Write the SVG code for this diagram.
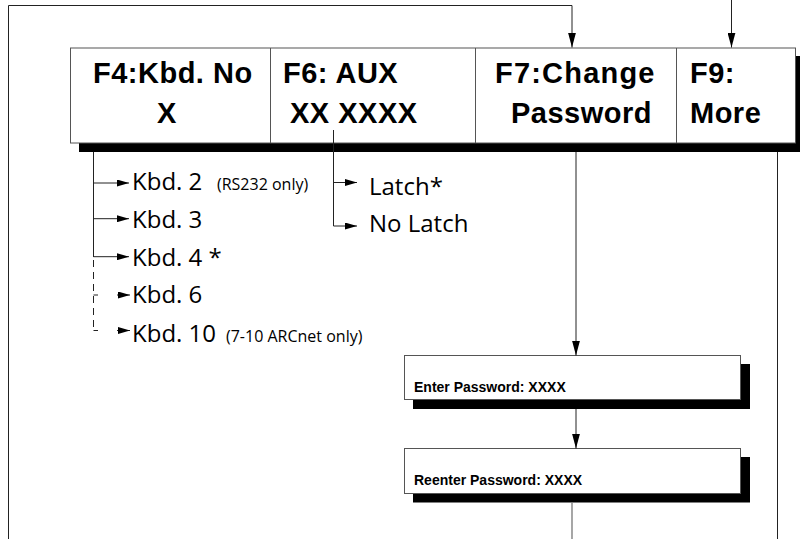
<svg xmlns="http://www.w3.org/2000/svg" width="803" height="539" viewBox="0 0 803 539">
<style>
.bg{fill:#fff}
.box{fill:#fff;stroke:#555;stroke-width:1}
.sh{fill:#000}
.div{stroke:#555;stroke-width:1;fill:none}
.key{font-family:"Liberation Sans",Arial,sans-serif;font-weight:bold;font-size:29px;letter-spacing:0.5px;fill:#000}
.opt{font-family:"Open Sans","Noto Sans",sans-serif;font-size:24px;fill:#000}
.note{font-family:"Open Sans","Noto Sans",sans-serif;font-size:16px;fill:#000}
.msg{font-family:"Liberation Sans",Arial,sans-serif;font-weight:bold;font-size:14px;fill:#000}
.c{stroke:#222;stroke-width:1;fill:none}
.cg{stroke:#777;stroke-width:1.3;fill:none}
.dash{stroke-dasharray:7 5}
</style>
<defs>
<marker id="ah" viewBox="0 0 15 8" refX="15" refY="4" markerWidth="15" markerHeight="8" markerUnits="userSpaceOnUse" orient="auto">
<path d="M0,0 L15,4 L0,8 z" fill="#000"/>
</marker>
<marker id="as" viewBox="0 0 12 7" refX="12" refY="3.5" markerWidth="12" markerHeight="7" markerUnits="userSpaceOnUse" orient="auto">
<path d="M0,0 L12,3.5 L0,7 z" fill="#000"/>
</marker>
</defs>
<rect class="bg" x="0" y="0" width="803" height="539"/>

<g id="menu">
<rect class="sh" x="79" y="56" width="721" height="96"/>
<rect class="box" x="70.5" y="48" width="725" height="95"/>
<line class="div" x1="270.5" y1="48" x2="270.5" y2="143"/>
<line class="div" x1="475.5" y1="48" x2="475.5" y2="143"/>
<line class="div" x1="676.5" y1="48" x2="676.5" y2="143"/>
</g>
<g id="f4">
<text class="key" x="93" y="83">F4:Kbd. No</text>
<text class="key" x="157" y="123">X</text>
</g>
<g id="f6">
<text class="key" x="283" y="83">F6: AUX</text>
<text class="key" x="290" y="123">XX XXXX</text>
</g>
<g id="f7">
<text class="key" x="495" y="83" style="letter-spacing:1.2px">F7:Change</text>
<text class="key" x="511" y="123">Password</text>
</g>
<g id="f9">
<text class="key" x="690" y="83">F9:</text>
<text class="key" x="690" y="123">More</text>
</g>

<g id="kbd2"><text class="opt" x="132" y="190">Kbd. 2</text><text class="note" x="217" y="190">(RS232 only)</text></g>
<g id="kbd3"><text class="opt" x="132" y="227.7">Kbd. 3</text></g>
<g id="kbd4"><text class="opt" x="132" y="265.7">Kbd. 4 *</text></g>
<g id="kbd6"><text class="opt" x="132" y="303.3">Kbd. 6</text></g>
<g id="kbd10"><text class="opt" x="132" y="341.7">Kbd. 10</text><text class="note" x="226" y="341.7">(7-10 ARCnet only)</text></g>
<g id="latch"><text class="opt" x="369" y="194.5">Latch*</text></g>
<g id="nolatch"><text class="opt" x="369" y="232">No Latch</text></g>

<g id="enter">
<rect class="sh" x="413" y="364" width="337" height="45"/>
<rect class="box" x="404.5" y="355.5" width="336" height="44"/>
<text class="msg" x="414" y="391.7">Enter Password: XXXX</text>
</g>
<g id="reenter">
<rect class="sh" x="413" y="457" width="337" height="45.5"/>
<rect class="box" x="404.5" y="448.5" width="336" height="45"/>
<text class="msg" x="414" y="485">Reenter Password: XXXX</text>
</g>

<g id="connectors">
<path class="c" d="M8.5,539 V5.5 H572 V47.5" marker-end="url(#ah)"/>
<path class="c" d="M731.5,0 V47.5" marker-end="url(#ah)"/>
<path class="c" d="M93.5,152 V257"/>
<path class="c dash" d="M93.5,260 V331"/>
<path class="c" d="M93.5,183 H129" marker-end="url(#as)"/>
<path class="c" d="M93.5,218.7 H129" marker-end="url(#as)"/>
<path class="c" d="M93.5,256.7 H129" marker-end="url(#as)"/>
<path class="c" d="M93.5,295 H98"/>
<path class="c" d="M117,295 H130" marker-end="url(#as)"/>
<path class="c" d="M93.5,330.5 H98"/>
<path class="c" d="M117,330.5 H130" marker-end="url(#as)"/>
<path class="c" d="M333.5,130 V226 H357" marker-end="url(#as)"/>
<path class="c" d="M333.5,182.5 H357" marker-end="url(#as)"/>
<path class="c" d="M576,152 V355.5" marker-end="url(#ah)"/>
<path class="c" d="M576,409 V448.5" marker-end="url(#ah)"/>
<path class="cg" d="M572,502.5 V539"/>
<path class="c" d="M777.5,152 V539"/>
</g>
</svg>
